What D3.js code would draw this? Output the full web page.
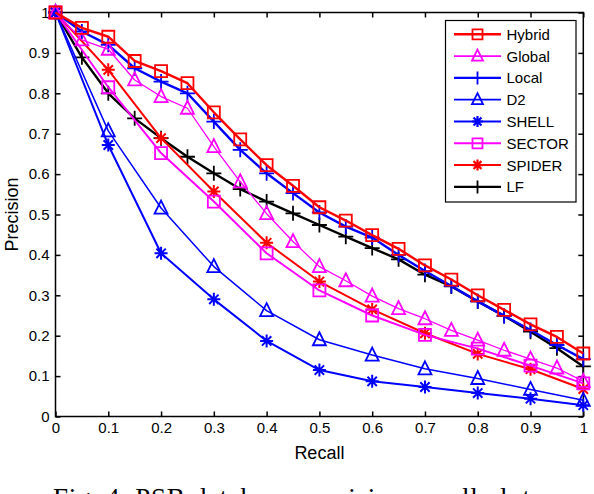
<!DOCTYPE html>
<html>
<head>
<meta charset="utf-8">
<script src="https://cdn.jsdelivr.net/npm/d3@7"></script>
<style>
  body { margin: 0; background: #fff; }
</style>
</head>
<body>
<script>
// recall points (markers every 0.05 or every 0.1)
const recallFine = [0, 0.05, 0.1, 0.15, 0.2, 0.25, 0.3, 0.35, 0.4, 0.45, 0.5,
  0.55, 0.6, 0.65, 0.7, 0.75, 0.8, 0.85, 0.9, 0.95, 1];
const recallCoarse = [0, 0.1, 0.2, 0.3, 0.4, 0.5, 0.6, 0.7, 0.8, 0.9, 1];

// precision values
const hybrid = [1, 0.962, 0.94, 0.88, 0.855, 0.825, 0.753, 0.686, 0.622, 0.571, 0.518,
  0.485, 0.449, 0.415, 0.374, 0.339, 0.3, 0.264, 0.228, 0.197, 0.156];
const global = [1, 0.932, 0.909, 0.833, 0.792, 0.763, 0.668, 0.581, 0.502, 0.433, 0.371,
  0.336, 0.298, 0.267, 0.242, 0.213, 0.189, 0.164, 0.142, 0.12, 0.087];
const local = [1, 0.953, 0.92, 0.862, 0.829, 0.8, 0.73, 0.66, 0.602, 0.553, 0.505,
  0.47, 0.443, 0.4, 0.36, 0.323, 0.285, 0.249, 0.214, 0.177, 0.142];
const d2 = [1, 0.707, 0.516, 0.371, 0.262, 0.19, 0.152, 0.118, 0.094, 0.067, 0.04];
const shell = [1, 0.672, 0.404, 0.29, 0.187, 0.115, 0.087, 0.073, 0.058, 0.044, 0.028];
const sector = [1, 0.815, 0.652, 0.532, 0.404, 0.312, 0.25, 0.202, 0.168, 0.126, 0.082];
const spider = [1, 0.858, 0.689, 0.557, 0.43, 0.334, 0.265, 0.206, 0.155, 0.117, 0.068];
const lf = [1, 0.889, 0.8, 0.738, 0.689, 0.643, 0.602, 0.563, 0.532, 0.503, 0.474,
  0.445, 0.417, 0.389, 0.351, 0.322, 0.285, 0.249, 0.21, 0.169, 0.124];

const xTicks = [0, 0.1, 0.2, 0.3, 0.4, 0.5, 0.6, 0.7, 0.8, 0.9, 1];
const yTicks = [0, 0.1, 0.2, 0.3, 0.4, 0.5, 0.6, 0.7, 0.8, 0.9, 1];

const series = [
  { name: "Hybrid", xs: recallFine, ys: hybrid, color: "#ff0000", marker: "square", lw: 2.4 },
  { name: "Global", xs: recallFine, ys: global, color: "#ff00ff", marker: "triangle", lw: 1.3 },
  { name: "Local", xs: recallFine, ys: local, color: "#0000ff", marker: "plus", lw: 2.4 },
  { name: "D2", xs: recallCoarse, ys: d2, color: "#0000ff", marker: "triangle", lw: 1.5 },
  { name: "SHELL", xs: recallCoarse, ys: shell, color: "#0000ff", marker: "star", lw: 2 },
  { name: "SECTOR", xs: recallCoarse, ys: sector, color: "#ff00ff", marker: "square", lw: 2 },
  { name: "SPIDER", xs: recallCoarse, ys: spider, color: "#ff0000", marker: "star", lw: 2 },
  { name: "LF", xs: recallFine, ys: lf, color: "#000000", marker: "plus", lw: 2.4 }
];

const sans = "'Liberation Sans', Arial, sans-serif";

let margin = { top: 12.5, left: 55.5, bottom: 77.5, right: 10.7 };
let W = 594, H = 494;
let width = W - margin.left - margin.right;
let height = H - margin.top - margin.bottom;

let svg = d3.select("body").append("svg")
  .attr("width", W).attr("height", H);
let g = svg.append("g").attr("transform", `translate(${margin.left}, ${margin.top})`);

let x = d3.scaleLinear().domain([0, 1]).range([0, width]);
let y = d3.scaleLinear().domain([0, 1]).range([height, 0]);

// axes with inward ticks, MATLAB style
g.append("g")
  .attr("transform", `translate(0, ${height})`)
  .call(d3.axisBottom(x).tickValues(xTicks).tickSizeInner(-5).tickSizeOuter(0)
    .tickPadding(6).tickFormat(d3.format("")))
  .call(a => a.select(".domain").remove());
g.append("g")
  .call(d3.axisLeft(y).tickValues(yTicks).tickSizeInner(-5).tickSizeOuter(0)
    .tickPadding(6).tickFormat(d3.format("")))
  .call(a => a.select(".domain").remove());
g.append("g")
  .call(d3.axisTop(x).tickValues(xTicks).tickSizeInner(-5).tickSizeOuter(0).tickFormat(""))
  .call(a => a.select(".domain").remove());
g.append("g")
  .attr("transform", `translate(${width}, 0)`)
  .call(d3.axisRight(y).tickValues(yTicks).tickSizeInner(-5).tickSizeOuter(0).tickFormat(""))
  .call(a => a.select(".domain").remove());

g.selectAll(".tick line").attr("stroke", "#000").attr("stroke-width", 1.5);
g.selectAll(".tick text")
  .style("font-size", "15px").style("font-family", sans).attr("fill", "#000");

g.append("rect")
  .attr("x", 0).attr("y", 0).attr("width", width).attr("height", height)
  .attr("fill", "none").attr("stroke", "#000").attr("stroke-width", 1.5);

// axis labels
g.append("text")
  .attr("x", width / 2).attr("y", height + 42.5)
  .attr("text-anchor", "middle")
  .style("font-size", "18px").style("font-family", sans)
  .text("Recall");
g.append("text")
  .attr("transform", "rotate(-90)")
  .attr("x", -height / 2).attr("y", -37.5)
  .attr("text-anchor", "middle")
  .style("font-size", "18px").style("font-family", sans)
  .text("Precision");

function markerPath(type, s) {
  let h = s / 2;
  if (type === "square") return `M${-h},${-h}H${h}V${h}H${-h}Z`;
  if (type === "triangle") return `M0,${-h - 1}L${h},${h - 1}L${-h},${h - 1}Z`;
  if (type === "plus") return `M${-h},0H${h}M0,${-h}V${h}`;
  if (type === "star") {
    let d = h * 0.72;
    return `M${-h},0H${h}M0,${-h}V${h}M${-d},${-d}L${d},${d}M${-d},${d}L${d},${-d}`;
  }
}
const markerSize = { square: 12, triangle: 13, plus: 15, star: 13 };

let line = d3.line().x(d => x(d[0])).y(d => y(d[1]));

// draw in reverse so Hybrid ends on top
series.slice().reverse().forEach(function (s) {
  let pts = s.xs.map((v, i) => [v, s.ys[i]]);
  g.append("path")
    .datum(pts)
    .attr("d", line)
    .attr("fill", "none")
    .attr("stroke", s.color)
    .attr("stroke-width", s.lw)
    .attr("stroke-linejoin", "round");
  g.selectAll(null)
    .data(pts)
    .enter().append("path")
    .attr("transform", d => `translate(${x(d[0])}, ${y(d[1])})`)
    .attr("d", markerPath(s.marker, markerSize[s.marker]))
    .attr("fill", "none")
    .attr("stroke", s.color)
    .attr("stroke-width", s.marker === "star" ? 2 : 1.8);
});

// legend
let legend = svg.append("g").attr("class", "legend");
legend.append("rect")
  .attr("x", 445.5).attr("y", 20.5).attr("width", 130.5).attr("height", 181.5)
  .attr("fill", "#fff").attr("stroke", "#000").attr("stroke-width", 1.2);

let row = legend.selectAll("g.row")
  .data(series)
  .enter().append("g")
  .attr("class", "row")
  .attr("transform", (d, i) => `translate(0, ${34.3 + i * 21.8})`);
row.append("line")
  .attr("x1", 454).attr("x2", 501).attr("y1", 0).attr("y2", 0)
  .attr("stroke", d => d.color).attr("stroke-width", d => Math.max(d.lw, 1.8));
row.append("path")
  .attr("transform", "translate(477.5, 0)")
  .attr("d", d => markerPath(d.marker, markerSize[d.marker] - 2))
  .attr("fill", "none")
  .attr("stroke", d => d.color)
  .attr("stroke-width", d => d.marker === "star" ? 2.2 : 1.8);
row.append("text")
  .attr("x", 506.5).attr("y", 5.5)
  .style("font-size", "15px").style("font-family", sans)
  .text(d => d.name);

// figure caption (cut off at the bottom of the picture, as in the source)
svg.append("text")
  .attr("x", 53).attr("y", 507)
  .attr("textLength", 477).attr("lengthAdjust", "spacing")
  .style("font-family", "'Liberation Serif', 'Times New Roman', serif")
  .style("font-size", "27px")
  .text("Fig. 4. PSB database precision-recall plot");
</script>
</body>
</html>
